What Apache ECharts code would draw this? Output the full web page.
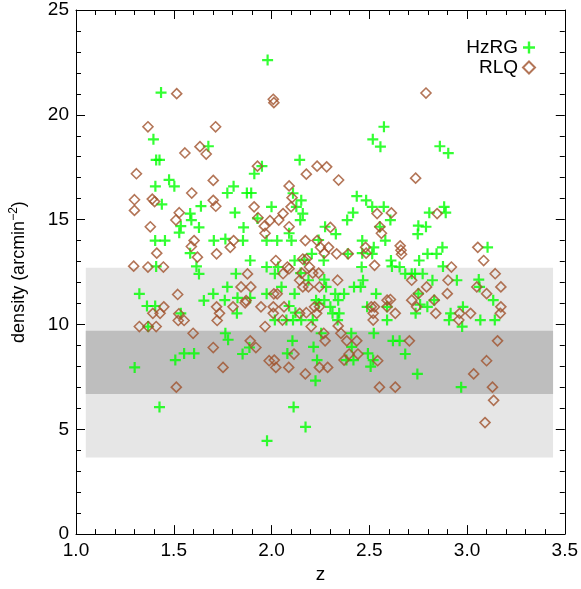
<!DOCTYPE html>
<html>
<head>
<meta charset="utf-8">
<script src="https://cdn.jsdelivr.net/npm/echarts@6/dist/echarts.min.js"></script>
<style>
  html, body { margin: 0; padding: 0; background: #fff; }
  #chart { width: 581px; height: 589px; }
</style>
</head>
<body>
<div id="chart"></div>
<script>
// HzRG: redshift and density (green crosses)
var hzrgZ = [1.98,1.435,1.396,1.677,1.41,1.427,1.951,1.912,1.476,1.406,1.503,1.806,1.774,1.874,1.896,
  2.575,2.518,2.557,2.144,2.11,2.436,2.861,2.904,1.439,1.639,1.813,1.584,1.928,1.59,1.536,
  1.629,1.857,1.528,1.405,1.455,1.705,1.764,1.854,1.975,1.584,1.891,1.41,1.616,1.975,1.629,
  1.818,1.774,1.324,1.702,1.654,1.761,1.826,1.891,1.975,1.363,1.405,1.536,1.823,1.369,1.764,
  1.778,1.887,1.553,1.604,1.852,1.508,1.427,2.152,2.484,2.0,2.127,2.515,2.574,2.16,2.417,
  2.147,2.387,2.274,2.554,2.329,2.09,2.029,2.102,2.241,2.464,2.582,2.523,2.206,2.39,2.464,
  2.515,2.168,2.118,2.267,2.034,2.461,2.017,2.149,2.27,2.468,2.189,2.051,2.279,2.422,2.456,
  2.118,2.326,2.371,2.535,2.228,2.27,2.341,2.301,2.241,2.489,2.591,2.09,2.122,2.312,2.346,
  2.591,2.017,2.076,2.11,2.152,2.211,2.338,2.408,2.254,2.523,2.107,2.215,2.41,2.081,2.493,
  2.233,2.383,2.419,2.52,2.507,2.225,2.113,2.174,1.977,2.883,2.807,2.891,2.608,2.751,2.79,
  2.748,2.874,3.105,2.798,2.844,2.755,2.611,2.877,2.616,2.655,2.684,2.717,2.734,2.773,2.823,
  2.948,3.06,3.064,2.76,2.797,2.979,3.134,2.737,2.916,2.908,3.068,3.142,2.975,2.621,2.655,
  2.684,2.746,2.97,1.30,2.751,2.832];
var hzrgDensity = [22.61,21.06,18.83,18.5,17.85,17.85,17.55,17.19,16.9,16.59,16.59,16.59,16.27,16.27,16.27,
  19.43,18.83,18.48,17.85,16.26,16.12,18.5,18.17,15.73,15.64,15.33,15.29,15.06,14.98,14.69,
  14.63,14.63,14.38,14.0,14.0,14.0,14.08,14.0,14.0,13.4,13.05,12.77,12.77,12.74,12.41,
  12.42,11.79,11.46,11.46,11.14,11.16,11.27,11.27,11.46,10.88,10.88,10.53,10.53,9.9,9.58,
  9.27,8.9,8.62,8.62,8.59,8.3,6.06,15.92,15.92,15.61,15.61,15.61,15.61,15.29,15.33,
  14.98,14.98,14.66,14.66,14.31,14.35,14.0,14.0,14.03,14.0,14.0,13.68,13.37,13.37,13.4,
  13.37,13.08,13.05,13.05,12.74,12.74,12.42,12.45,12.14,12.11,12.11,11.79,11.79,11.79,11.79,
  11.46,11.46,11.46,11.46,11.16,11.16,11.16,10.84,11.0,10.84,10.84,10.88,10.56,10.53,10.53,
  10.21,10.21,10.21,10.21,10.21,10.21,10.21,9.58,9.58,9.58,9.22,8.93,8.93,8.62,8.62,
  8.3,8.3,8.3,8.3,7.99,7.32,6.06,5.11,4.45,15.61,15.33,15.33,14.98,14.71,14.66,
  14.31,13.68,13.68,13.37,13.37,13.05,13.05,12.77,12.77,12.74,12.42,12.42,12.42,12.42,12.11,
  12.11,12.14,11.79,10.95,10.84,10.84,11.16,10.53,10.53,10.21,10.21,10.21,9.9,9.22,9.22,
  8.59,7.64,7.01,7.95,11.47,11.16];

// RLQ: redshift and density (brown diamonds)
var rlqZ = [1.515,2.009,2.012,1.368,1.714,1.634,1.557,1.666,1.309,1.928,1.702,1.592,2.233,2.282,2.178,
  2.343,2.09,2.79,2.737,1.39,1.402,1.702,1.715,1.911,1.528,1.931,1.511,1.38,1.963,1.967,
  1.604,1.806,1.59,1.789,1.413,1.719,1.621,1.368,1.447,1.877,1.844,1.894,1.52,1.87,1.865,
  1.803,1.719,1.449,1.393,1.43,1.526,1.523,1.553,1.734,1.722,1.946,1.324,1.369,1.41,1.599,
  1.891,1.92,1.702,1.752,1.513,1.988,2.105,2.1,2.059,2.54,2.037,1.992,2.09,2.301,2.562,
  2.173,2.233,2.25,2.292,2.481,2.27,2.333,2.392,2.484,2.16,2.178,2.022,2.527,2.081,2.09,
  2.194,2.155,2.211,2.241,2.059,2.338,2.144,2.189,2.245,2.16,2.012,2.029,2.009,2.064,2.22,
  2.245,2.51,2.527,2.009,2.144,2.178,2.231,2.52,2.52,2.056,1.967,2.203,2.341,2.267,2.355,
  2.274,2.385,2.436,2.115,2.397,2.442,2.014,2.371,2.543,2.022,2.088,2.245,2.287,2.173,2.552,
  2.613,2.847,2.658,2.662,2.665,3.055,3.085,2.92,3.144,2.717,2.903,2.793,3.05,3.173,2.751,
  2.899,3.1,2.591,2.608,2.717,2.832,2.591,2.742,3.173,3.17,2.633,2.84,2.962,3.018,2.958,
  2.705,3.156,3.1,3.034,2.633,3.13,3.136,3.092,1.299,1.299,1.295,2.554];
var rlqDensity = [21.01,20.74,20.58,19.43,19.43,18.48,18.18,18.13,17.19,17.55,16.87,16.27,17.55,17.52,17.17,
  16.89,16.61,21.04,16.98,15.98,15.86,15.92,15.64,15.61,15.33,15.09,14.98,14.66,14.69,14.35,
  14.0,14.0,13.72,13.68,13.4,13.37,13.21,12.74,12.74,12.41,11.79,11.79,11.43,11.14,11.03,
  10.84,10.84,10.84,10.53,10.53,10.51,10.19,10.19,10.53,10.19,10.84,9.9,9.9,9.9,9.58,
  9.22,8.9,8.9,7.95,7.01,8.27,16.05,15.61,15.29,15.29,14.98,14.95,14.66,14.63,14.35,
  14.0,14.0,13.68,13.68,13.68,13.4,13.37,13.37,13.4,13.12,13.12,13.05,12.82,12.74,12.66,
  12.74,12.45,12.45,12.45,12.42,12.11,12.11,11.79,11.79,11.79,11.46,11.46,10.84,10.84,10.84,
  10.84,10.84,10.84,10.53,10.53,10.56,10.53,10.53,10.21,10.21,9.9,9.9,9.93,9.58,9.58,
  9.22,9.22,9.22,8.59,8.59,8.59,8.3,8.3,8.27,7.95,7.95,7.95,7.95,7.64,7.01,
  15.32,15.29,13.75,13.54,13.35,13.68,13.05,12.74,12.42,12.11,12.11,11.79,11.79,11.79,11.47,
  11.47,11.47,11.16,11.19,11.16,11.16,10.84,10.84,10.84,10.53,10.53,10.53,10.53,10.53,10.21,
  9.22,9.22,8.27,7.64,7.01,7.01,6.38,5.32,15.95,15.44,12.78,14.66];

// shaded bands: [zFrom, zTo, densityFrom, densityTo]
var outerBand = [1.05, 3.44, 3.65, 12.7];
var innerBand = [1.05, 3.44, 6.68, 9.7];

function pairs(xs, ys) {
  var out = [];
  for (var i = 0; i < xs.length; i++) out.push([xs[i], ys[i]]);
  return out;
}

var PLUS = 'path://M4,0H6V4H10V6H6V10H4V6H0V4H4Z';
var font = 'Liberation Sans, Arial, Helvetica, sans-serif';

var chart = echarts.init(document.getElementById('chart'));

function axisCommon(extra) {
  var base = {
    type: 'value',
    axisLine: { show: true, onZero: false, lineStyle: { color: '#000', width: 1 } },
    axisTick: { show: true, inside: true, length: 9, lineStyle: { color: '#000' } },
    minorTick: { show: true, splitNumber: 5, length: 5, lineStyle: { color: '#000' } },
    splitLine: { show: false },
    minorSplitLine: { show: false }
  };
  return Object.assign(base, extra);
}

chart.setOption({
  animation: false,
  backgroundColor: '#fff',
  grid: { left: 74, right: 13, top: 10, bottom: 51 },
  legend: {
    data: ['HzRG', 'RLQ'],
    orient: 'vertical',
    right: 40,
    top: 33,
    align: 'right',
    itemGap: 1,
    itemWidth: 12,
    itemHeight: 12,
    textStyle: { fontFamily: font, fontSize: 19, color: '#000' }
  },
  xAxis: [
    axisCommon({
      min: 1, max: 3.5, interval: 0.5,
      name: 'z', nameLocation: 'middle', nameGap: 29,
      nameTextStyle: { fontFamily: font, fontSize: 19, color: '#000' },
      axisLabel: {
        margin: 7, fontFamily: font, fontSize: 19, color: '#000',
        formatter: function (v) { return v.toFixed(1); }
      }
    }),
    axisCommon({
      position: 'top', min: 1, max: 3.5, interval: 0.5,
      axisLabel: { show: false }
    })
  ],
  yAxis: [
    axisCommon({
      min: 0, max: 25, interval: 5,
      name: '{n|density (arcmin}{s|−2}{n|)}', nameLocation: 'middle', nameGap: 46,
      nameRotate: 90,
      nameTextStyle: {
        rich: {
          n: { fontFamily: font, fontSize: 18, color: '#000' },
          s: { fontFamily: font, fontSize: 12, color: '#000', padding: [0, 0, 10, 0] }
        }
      },
      axisLabel: { margin: 7, fontFamily: font, fontSize: 19, color: '#000' }
    }),
    axisCommon({
      position: 'right', min: 0, max: 25, interval: 5,
      axisLabel: { show: false }
    })
  ],
  series: [
    {
      name: 'bands',
      type: 'scatter',
      data: [],
      z: 1,
      silent: true,
      markArea: {
        silent: true,
        data: [
          [{ coord: [outerBand[0], outerBand[2]], itemStyle: { color: '#e6e6e6' } },
           { coord: [outerBand[1], outerBand[3]] }],
          [{ coord: [innerBand[0], innerBand[2]], itemStyle: { color: '#bebebe' } },
           { coord: [innerBand[1], innerBand[3]] }]
        ]
      }
    },
    {
      name: 'HzRG',
      type: 'scatter',
      symbol: PLUS,
      symbolSize: 11,
      data: pairs(hzrgZ, hzrgDensity),
      itemStyle: { color: '#00ff00' },
      z: 3
    },
    {
      name: 'RLQ',
      type: 'scatter',
      symbol: 'diamond',
      symbolSize: [10, 10],
      data: pairs(rlqZ, rlqDensity),
      itemStyle: { color: 'rgba(0,0,0,0)', borderColor: '#a0522d', borderWidth: 1.6 },
      z: 4
    }
  ]
});
</script>
</body>
</html>
